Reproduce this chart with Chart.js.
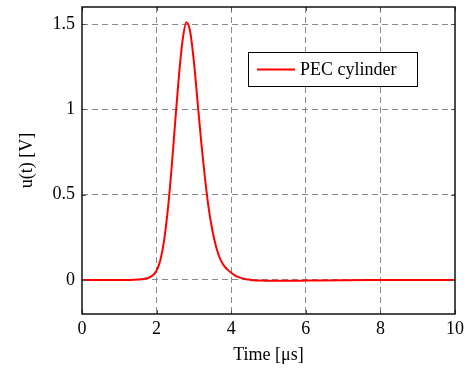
<!DOCTYPE html>
<html>
<head>
<meta charset="utf-8">
<script src="https://cdn.jsdelivr.net/npm/chart.js"></script>
<style>
  html, body { margin: 0; padding: 0; background: #fff; }
  #wrap { width: 472px; height: 368px; }
</style>
</head>
<body>
<div id="wrap"><canvas id="pulseChart"></canvas></div>
<script>
// values
const timeUs = [0, 0.5, 1.0, 1.2, 1.4, 1.5, 1.6, 1.7, 1.8, 1.9, 2.0, 2.1, 2.2, 2.3, 2.4, 2.5, 2.6, 2.7, 2.8,
  2.9, 3.0, 3.1, 3.2, 3.3, 3.4, 3.5, 3.6, 3.7, 3.8, 3.9, 4.0, 4.1, 4.2, 4.3, 4.4, 4.5, 4.6, 4.8, 5.0,
  5.5, 6.0, 7.0, 8.0, 9.0, 10.0];
const voltage = [0, 0, 0, 0, 0.001, 0.002, 0.004, 0.008, 0.014, 0.027, 0.055, 0.115, 0.23, 0.41, 0.65, 0.93, 1.2, 1.41, 1.51,
  1.455, 1.28, 1.04, 0.8, 0.59, 0.415, 0.285, 0.19, 0.125, 0.085, 0.06, 0.042, 0.027, 0.016, 0.009, 0.004, 0.001, -0.002, -0.004, -0.005,
  -0.005, -0.004, -0.002, -0.001, 0, 0];
const seriesName = "PEC cylinder";
const xTicks = [0, 2, 4, 6, 8, 10];
const yTicks = [0, 0.5, 1, 1.5];

const FONT = "'Liberation Serif', 'Times New Roman', serif";

// frame + small inward ticks (pgfplots style)
const framePlugin = {
  id: "frame",
  afterDatasetsDraw: (chart) => {
    const { ctx, chartArea: a, scales: { x, y } } = chart;
    ctx.save();
    ctx.strokeStyle = "#555";
    ctx.lineWidth = 1;
    ctx.beginPath();
    xTicks.forEach((v) => {
      const px = Math.round(x.getPixelForValue(v)) + 0.5;
      ctx.moveTo(px, a.bottom); ctx.lineTo(px, a.bottom - 4);
      ctx.moveTo(px, a.top); ctx.lineTo(px, a.top + 4);
    });
    yTicks.forEach((v) => {
      const py = Math.round(y.getPixelForValue(v)) + 0.5;
      ctx.moveTo(a.left, py); ctx.lineTo(a.left + 4, py);
      ctx.moveTo(a.right, py); ctx.lineTo(a.right - 4, py);
    });
    ctx.stroke();
    ctx.strokeStyle = "#000";
    ctx.lineWidth = 1.4;
    ctx.strokeRect(a.left, a.top, a.right - a.left, a.bottom - a.top);
    ctx.restore();
  },
};

// legend box inside the plot, top right
const boxLegendPlugin = {
  id: "boxLegend",
  afterDraw: (chart) => {
    const { ctx, chartArea: a } = chart;
    const ds = chart.data.datasets[0];
    const left = a.right - 207, top = a.top + 45, w = 169, h = 34;
    ctx.save();
    ctx.fillStyle = "#fff";
    ctx.fillRect(left, top, w, h);
    ctx.strokeStyle = "#000";
    ctx.lineWidth = 1;
    ctx.strokeRect(left + 0.5, top + 0.5, w, h);
    ctx.strokeStyle = ds.borderColor;
    ctx.lineWidth = 2;
    ctx.beginPath();
    ctx.moveTo(left + 9, top + h / 2 + 0.5);
    ctx.lineTo(left + 47, top + h / 2 + 0.5);
    ctx.stroke();
    ctx.fillStyle = "#000";
    ctx.font = "18px " + FONT;
    ctx.textBaseline = "middle";
    ctx.fillText(ds.label, left + 52, top + h / 2 + 1);
    ctx.restore();
  },
};

const ctx = document.getElementById("pulseChart").getContext("2d");

new Chart(ctx, {
  type: "line",
  data: {
    datasets: [
      {
        label: seriesName,
        data: timeUs.map((t, i) => ({ x: t, y: voltage[i] })),
        borderColor: "#ff0000",
        borderWidth: 2,
        pointRadius: 0,
        fill: false,
        cubicInterpolationMode: "monotone",
      },
    ],
  },
  plugins: [framePlugin, boxLegendPlugin],
  options: {
    responsive: true,
    maintainAspectRatio: false,
    animation: false,
    layout: { padding: { top: 7, right: 17, left: 0, bottom: 0 } },
    plugins: {
      legend: { display: false },
      tooltip: { enabled: false },
    },
    scales: {
      x: {
        type: "linear",
        min: 0,
        max: 10,
        afterBuildTicks: (s) => { s.ticks = xTicks.map((v) => ({ value: v })); },
        afterFit: (s) => { s.height = 54; s.paddingLeft = 0; s.paddingRight = 0; },
        border: { display: false, dash: [6, 4] },
        grid: {
          color: (c) => (c.tick && (c.tick.value === 0 || c.tick.value === 10) ? "rgba(0,0,0,0)" : "#8a8a8a"),
          lineWidth: 1,
          drawTicks: false,
        },
        ticks: {
          padding: 4,
          maxRotation: 0,
          autoSkip: false,
          color: "#000",
          font: { family: FONT, size: 18 },
        },
        title: {
          display: true,
          text: "Time [μs]",
          color: "#000",
          font: { family: FONT, size: 18 },
          padding: { top: 0, bottom: 2 },
        },
      },
      y: {
        type: "linear",
        min: -0.2,
        max: 1.6,
        afterBuildTicks: (s) => { s.ticks = yTicks.map((v) => ({ value: v })); },
        afterFit: (s) => { s.width = 82; s.paddingTop = 0; s.paddingBottom = 0; },
        border: { display: false, dash: [6, 4] },
        grid: {
          color: "#8a8a8a",
          lineWidth: 1,
          drawTicks: false,
        },
        ticks: {
          padding: 7,
          autoSkip: false,
          color: "#000",
          font: { family: FONT, size: 18 },
          callback: (v) => String(v),
        },
        title: {
          display: true,
          text: "u(t) [V]",
          color: "#000",
          font: { family: FONT, size: 18 },
          padding: { top: 16, bottom: 0 },
        },
      },
    },
  },
});
</script>
</body>
</html>
